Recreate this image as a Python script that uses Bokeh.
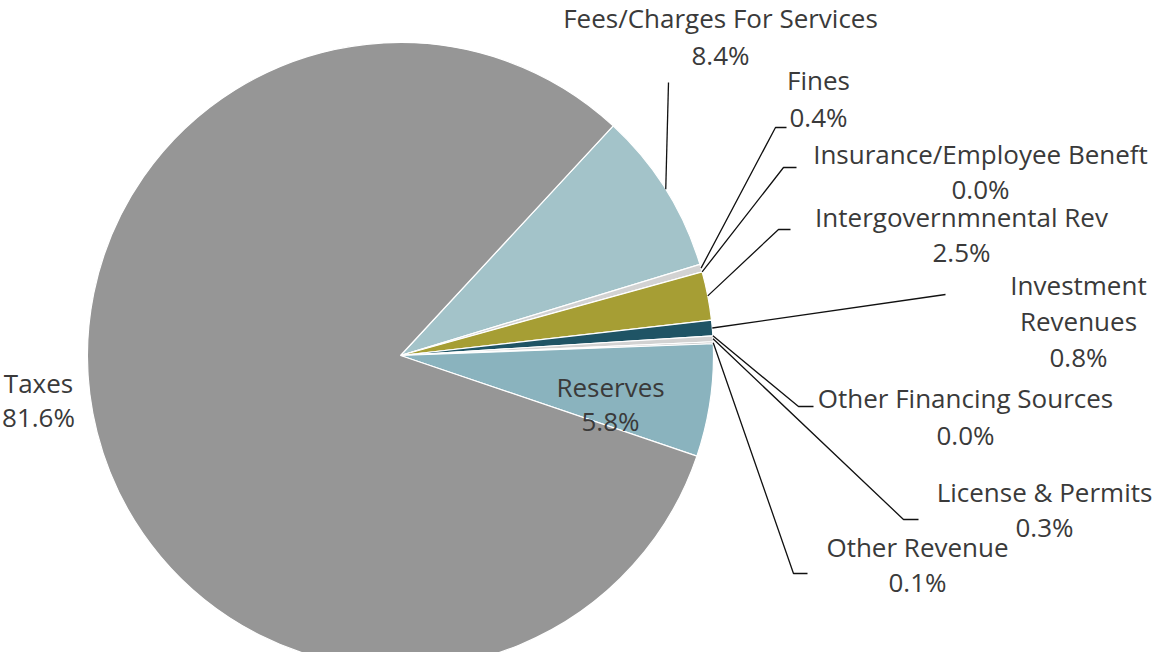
import numpy as np
from bokeh.plotting import figure
from bokeh.models import Range1d, ColumnDataSource
from bokeh.embed import file_html
from bokeh.resources import INLINE
from bokeh.core.properties import value

# ---- data ----
categories = ["Fees/Charges For Services", "Fines", "Insurance/Employee Beneft",
              "Intergovernmnental Rev", "Investment Revenues", "Other Financing Sources",
              "License & Permits", "Other Revenue", "Reserves", "Taxes"]
shares = [8.4, 0.4, 0.0, 2.5, 0.8, 0.0, 0.3, 0.1, 5.8, 81.6]
colors = ["#a3c3c9", "#d2d2d2", "#d2d2d2", "#a69e34", "#1f5465", "#d2d2d2",
          "#d2d2d2", "#c8c8c8", "#8ab3be", "#969696"]
label_lines = [["Fees/Charges For Services", "8.4%"], ["Fines", "0.4%"],
               ["Insurance/Employee Beneft", "0.0%"], ["Intergovernmnental Rev", "2.5%"],
               ["Investment", "Revenues", "0.8%"], ["Other Financing Sources", "0.0%"],
               ["License & Permits", "0.3%"], ["Other Revenue", "0.1%"],
               ["Reserves", "5.8%"], ["Taxes", "81.6%"]]

# ---- layout (picture pixel coordinates, origin top-left) ----
W, H = 1152, 652
CX, CY, R = 400, 355, 313
START_DEG = 47.2
label_pos = [(720, [17, 54]), (818, [79, 116]), (980, [153, 188]), (961, [216, 251]),
             (1078, [284, 320, 356]), (965, [397, 434]), (1044, [491, 526]),
             (917, [546, 581]), (610, [386, 420]), (38, [382, 416])]
leaders = [[(668, 82)], [(775, 127), (786, 127)], [(783, 167), (796, 167)],
           [(778, 229), (790, 229)], [(945, 294)], [(798, 406), (813, 406)],
           [(903, 519), (918, 519)], [(793, 573), (807, 573)], None, None]

def Y(sy):
    return H - sy

p = figure(width=W, height=H, x_range=Range1d(0, W), y_range=Range1d(0, H),
           min_border=0, output_backend="svg", toolbar_location=None)
p.axis.visible = False
p.grid.visible = False
p.outline_line_color = None
p.background_fill_color = "white"

total = sum(shares)
a = np.deg2rad(START_DEG)
starts, ends, cols, mids = [], [], [], []
for s, c in zip(shares, colors):
    span = s / total * 2 * np.pi
    lo = a - span
    mids.append((a + lo) / 2)
    if s > 0:
        starts.append(lo)
        ends.append(a)
        cols.append(c)
    a = lo

src = ColumnDataSource(dict(start=starts, end=ends, color=cols))
p.wedge(x=CX, y=Y(CY), radius=R, start_angle="start", end_angle="end",
        direction="anticlock", fill_color="color", line_color="white", line_width=1.2,
        source=src)

xs, ys = [], []
for m, ld in zip(mids, leaders):
    if ld is None:
        continue
    ax = CX + R * np.cos(m)
    ay = CY - R * np.sin(m)
    pts = [(ax, ay)] + ld
    xs.append([pt[0] for pt in pts])
    ys.append([Y(pt[1]) for pt in pts])
p.multi_line(xs=xs, ys=ys, line_color="#111111", line_width=1.3)

tx, ty, tt = [], [], []
for (lx, lys), lines in zip(label_pos, label_lines):
    for ly, t in zip(lys, lines):
        tx.append(lx)
        ty.append(Y(ly))
        tt.append(t)
p.text(x=tx, y=ty, text=tt, text_align="center", text_baseline="middle",
       text_font=value("Open Sans"), text_font_size="26px", text_color="#3a3a3a")

open("out.html", "w").write(file_html(p, INLINE))
